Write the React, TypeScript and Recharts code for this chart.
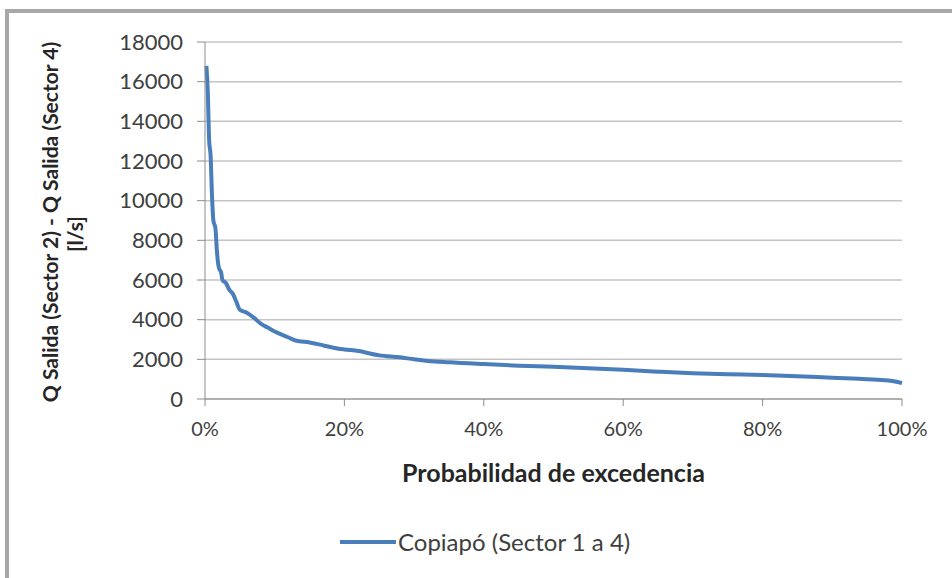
import React from "react";
import { LineChart, Line, XAxis, YAxis, CartesianGrid, Legend } from "recharts";

const exceedancePct = [0.2, 0.4, 0.6, 0.8, 1.0, 1.2, 1.5, 1.7, 2.0, 2.3, 2.5, 3.0, 3.5, 4.0, 4.5, 5.0, 6.0, 7.0, 8.0, 9.0, 10, 11, 12, 13, 15, 17, 19, 20, 22, 25, 28, 30, 32, 35, 40, 45, 50, 55, 60, 65, 70, 75, 80, 85, 90, 95, 98, 99, 100];
const flowLs = [16800, 15500, 13000, 12300, 10300, 9000, 8600, 7500, 6600, 6400, 6000, 5850, 5500, 5300, 4900, 4500, 4350, 4100, 3800, 3600, 3400, 3250, 3100, 2950, 2850, 2700, 2550, 2500, 2420, 2200, 2100, 2000, 1920, 1850, 1760, 1680, 1620, 1550, 1470, 1380, 1300, 1250, 1210, 1150, 1070, 1000, 930, 880, 800];
const xTicks = [0, 20, 40, 60, 80, 100];
const yTicks = [0, 2000, 4000, 6000, 8000, 10000, 12000, 14000, 16000, 18000];
const seriesName = "Copiapó (Sector 1 a 4)";
const xTitle = "Probabilidad  de excedencia";
const yTitle1 = "Q Salida (Sector 2) - Q Salida (Sector 4)";
const yTitle2 = "[l/s]";

const data = exceedancePct.map((p, i) => ({ p, q: flowLs[i] }));

const FONT = "Lato, 'Open Sans', sans-serif";
const BLUE = "#4a7ebb";

const YTitle = () => (
  <g>
    <text x={49} y={222} transform="rotate(-90 49 222)" textAnchor="middle" dominantBaseline="central" fontFamily={FONT} fontWeight={700} fontSize={21} fill="#262626">
      {yTitle1}
    </text>
    <text x={74} y={234} transform="rotate(-90 74 234)" textAnchor="middle" dominantBaseline="central" fontFamily={FONT} fontWeight={700} fontSize={21} fill="#262626">
      {yTitle2}
    </text>
  </g>
);

const LegendContent = () => (
  <div style={{ display: "flex", alignItems: "center", fontFamily: FONT, fontSize: 24, color: "#404040", whiteSpace: "nowrap" }}>
    <div style={{ width: 56, height: 4, background: BLUE, marginRight: 2 }} />
    <span>{seriesName}</span>
  </div>
);

export default function App() {
  return (
    <div style={{ position: "absolute", left: 0, top: 0, width: 952, height: 578, background: "#fff", overflow: "hidden" }}>
      <div style={{ position: "absolute", left: 5, top: 9, right: -10, bottom: -10, borderTop: "4px solid #a8a8a8", borderLeft: "4px solid #a8a8a8" }} />
      <div style={{ position: "absolute", left: 0, top: 0 }}>
        <LineChart width={952} height={578} data={data} margin={{ top: 42, right: 50, bottom: 149, left: 145 }}>
          <CartesianGrid vertical={false} stroke="#c4c4c4" strokeWidth={1.5} />
          <XAxis
            dataKey="p"
            type="number"
            domain={[0, 100]}
            ticks={xTicks}
            tickFormatter={(v) => `${v}%`}
            height={30}
            stroke="#8c8c8c"
            tickSize={7}
            tickMargin={16}
            tick={{ fontFamily: FONT, fontSize: 20, fill: "#404040" }}
            label={{ value: xTitle, position: "bottom", offset: 35, style: { fontFamily: FONT, fontWeight: 700, fontSize: 25, fill: "#262626", whiteSpace: "pre" } }}
          />
          <YAxis
            type="number"
            domain={[0, 18000]}
            ticks={yTicks}
            width={60}
            stroke="#8c8c8c"
            tickSize={8}
            tickMargin={14}
            tick={{ fontFamily: FONT, fontSize: 22, fill: "#404040" }}
            label={<YTitle />}
          />
          <Line type="monotone" dataKey="q" name={seriesName} stroke={BLUE} strokeWidth={4} dot={false} isAnimationActive={false} />
          <Legend content={<LegendContent />} wrapperStyle={{ position: "absolute", left: 340, top: 527, width: "auto", height: 0, overflow: "visible" }} />
        </LineChart>
      </div>
    </div>
  );
}
